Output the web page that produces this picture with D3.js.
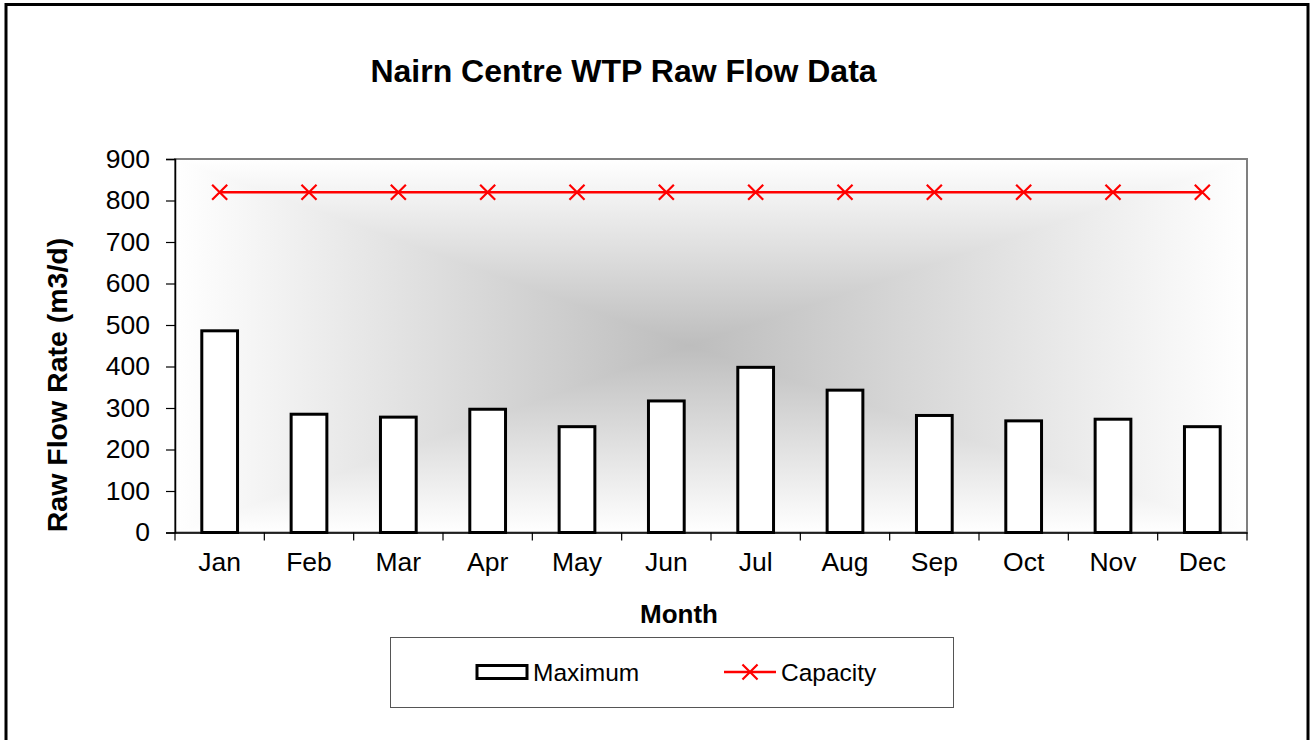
<!DOCTYPE html>
<html><head><meta charset="utf-8">
<script src="https://cdn.jsdelivr.net/npm/d3@7"></script>
<style>html,body{margin:0;padding:0;background:#fff;} svg{display:block;font-family:"Liberation Sans",Arial,sans-serif;}</style>
</head><body>
<svg id="chart" width="1311" height="740"></svg>
<script>
const months = ["Jan","Feb","Mar","Apr","May","Jun","Jul","Aug","Sep","Oct","Nov","Dec"];
const maximum = [486,285,278,297,255,317,398,343,282,269,273,255];
const capacity = [820,820,820,820,820,820,820,820,820,820,820,820];
const yTicks = [0,100,200,300,400,500,600,700,800,900];
const seriesNames = ["Maximum","Capacity"];

const svg = d3.select("#chart");
const m = {left:175, right:1247, top:159, bottom:532.5};
const W = m.right - m.left, H = m.bottom - m.top;

// outer border
svg.append("rect").attr("x",6).attr("y",4.5).attr("width",1302).attr("height",745)
  .attr("fill","#fff").attr("stroke","#000").attr("stroke-width",3);

const defs = svg.append("defs");
const gh = defs.append("linearGradient").attr("id","gh").attr("x1",0).attr("x2",1).attr("y1",0).attr("y2",0);
gh.append("stop").attr("offset",0).attr("stop-color","#ffffff");
gh.append("stop").attr("offset",0.48).attr("stop-color","#bdbdbd");
gh.append("stop").attr("offset",1).attr("stop-color","#ffffff");
const gv = defs.append("linearGradient").attr("id","gv").attr("x1",0).attr("x2",0).attr("y1",0).attr("y2",1);
gv.append("stop").attr("offset",0).attr("stop-color","#ffffff");
gv.append("stop").attr("offset",0.5).attr("stop-color","#bdbdbd");
gv.append("stop").attr("offset",1).attr("stop-color","#ffffff");

const x = d3.scaleBand().domain(months).range([m.left, m.right]).paddingInner(0.6).paddingOuter(0.3);
const xPoint = d => x(d) + x.bandwidth()/2;
const y = d3.scaleLinear().domain([0,900]).range([m.bottom, m.top]);

// plot background (rectangular "from center" gradient)
const bg = svg.append("g").style("isolation","isolate");
bg.append("rect").attr("x",m.left).attr("y",m.top).attr("width",W).attr("height",H).attr("fill","url(#gh)");
bg.append("rect").attr("x",m.left).attr("y",m.top).attr("width",W).attr("height",H).attr("fill","url(#gv)").style("mix-blend-mode","lighten");
svg.append("rect").attr("x",m.left).attr("y",m.top).attr("width",W).attr("height",H)
  .attr("fill","none").attr("stroke","#808080").attr("stroke-width",2);

// title
svg.append("text").attr("x",623.5).attr("y",82).attr("text-anchor","middle")
  .attr("font-size",32).attr("font-weight","bold").text("Nairn Centre WTP Raw Flow Data");

// y axis
const yAxis = svg.append("g").attr("transform",`translate(${m.left},0)`)
  .call(d3.axisLeft(y).tickValues(yTicks).tickSize(9).tickPadding(16).tickFormat(d3.format("d")));
yAxis.select(".domain").attr("stroke","#000").attr("stroke-width",1.5);
yAxis.selectAll(".tick line").attr("stroke","#000").attr("stroke-width",1.2);
yAxis.selectAll("text").attr("font-size",26.5).attr("fill","#000").attr("font-family","Liberation Sans, Arial, sans-serif");

// x axis
const boundaries = months.map(d => x(d) - x.step()*x.paddingInner()/2);
const xAxis = svg.append("g").attr("transform",`translate(0,${m.bottom})`)
  .call(d3.axisBottom(x).tickSize(0).tickPadding(20));
xAxis.select(".domain").attr("stroke","#000").attr("stroke-width",1.5);
xAxis.selectAll("text").attr("font-size",26.5).attr("fill","#000").attr("font-family","Liberation Sans, Arial, sans-serif");
xAxis.selectAll(".bt").data(boundaries.concat([m.right])).enter().append("line").attr("class","bt")
  .attr("x1",d=>d).attr("x2",d=>d).attr("y1",0).attr("y2",8).attr("stroke","#000").attr("stroke-width",1.2);

// axis titles
svg.append("text").attr("transform",`translate(67,385) rotate(-90)`)
  .attr("text-anchor","middle").attr("font-size",28.5).attr("font-weight","bold").text("Raw Flow Rate (m3/d)");
svg.append("text").attr("x",679).attr("y",623).attr("text-anchor","middle")
  .attr("font-size",26).attr("font-weight","bold").text("Month");

// bars
svg.append("g").selectAll("rect").data(months).enter().append("rect")
  .attr("x",d=>x(d)).attr("width",x.bandwidth())
  .attr("y",(d,i)=>y(maximum[i])).attr("height",(d,i)=>y(0)-y(maximum[i]))
  .attr("fill","#fff").attr("stroke","#000").attr("stroke-width",3);

// capacity line
const line = d3.line().x((d,i)=>xPoint(months[i])).y(d=>y(d));
svg.append("path").datum(capacity).attr("d",line).attr("fill","none").attr("stroke","#ff0000").attr("stroke-width",2.5);
const cross = d3.symbol().type(d3.symbolX).size(150);
svg.append("g").selectAll("path").data(capacity).enter().append("path")
  .attr("d",cross).attr("transform",(d,i)=>`translate(${xPoint(months[i])},${y(d)})`)
  .attr("fill","none").attr("stroke","#ff0000").attr("stroke-width",2.2);

// legend
const lg = svg.append("g");
lg.append("rect").attr("x",390.5).attr("y",637.5).attr("width",563).attr("height",70)
  .attr("fill","#fff").attr("stroke","#555").attr("stroke-width",1);
lg.append("rect").attr("x",477).attr("y",665.5).attr("width",50).attr("height",13)
  .attr("fill","#fff").attr("stroke","#000").attr("stroke-width",3);
lg.append("text").attr("x",533).attr("y",681).attr("font-size",24.5).text(seriesNames[0]);
lg.append("line").attr("x1",724).attr("x2",776).attr("y1",672).attr("y2",672).attr("stroke","#ff0000").attr("stroke-width",2.5);
lg.append("path").attr("d",cross).attr("transform","translate(750,672)").attr("fill","none").attr("stroke","#ff0000").attr("stroke-width",2.2);
lg.append("text").attr("x",781).attr("y",681).attr("font-size",24.5).text(seriesNames[1]);
</script>
</body></html>
